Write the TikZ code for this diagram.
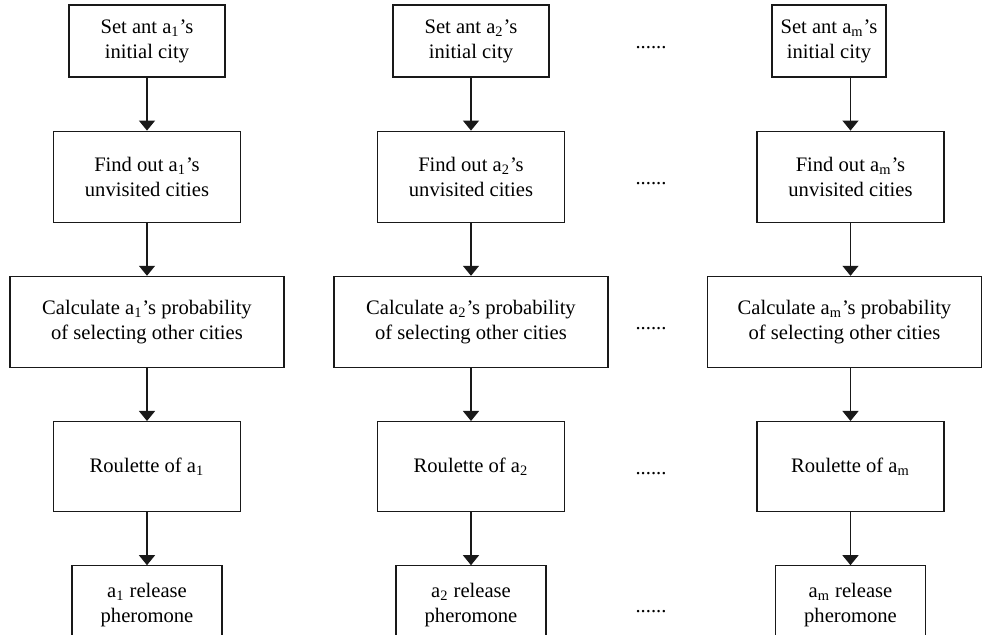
\documentclass[tikz,border=0pt]{standalone}
\usepackage{fontspec}
\setmainfont{Liberation Serif}
\usetikzlibrary{arrows.meta, positioning}

\begin{document}
\begin{tikzpicture}[
        x=0.5pt, y=0.5pt,
        font=\fontsize{10.3}{12.5}\selectfont,
        node distance=26.5pt,
        cell/.style={rectangle, draw=black!90, line width=0.6pt, align=center, inner sep=2pt},
        setbox/.style={cell, minimum width=78pt, minimum height=36pt},
        findbox/.style={cell, minimum width=93.5pt, minimum height=45.5pt},
        calcbox/.style={cell, minimum width=137pt, minimum height=45.5pt},
        roulbox/.style={cell, minimum width=93.5pt, minimum height=45pt},
        relbox/.style={cell, minimum width=75pt, minimum height=39pt},
        gapdots/.style={anchor=base, yshift=-4pt, inner sep=0pt},
        flow/.style={-{Triangle[length=5pt, width=8pt]}, line width=0.6pt, draw=black!90},
    ]
        \useasboundingbox (0,0) rectangle (982,-635);
        \clip (0,0) rectangle (982,-635);

        % ant a1
        \node[setbox] (c1b1) at (147,-41) {Set ant a\textsubscript{1}'s\\initial city};
        \node[findbox, below=of c1b1] (c1b2) {Find out a\textsubscript{1}'s\\unvisited cities};
        \node[calcbox, below=of c1b2] (c1b3)
            {Calculate a\textsubscript{1}'s probability\\of selecting other cities};
        \node[roulbox, below=of c1b3] (c1b4) {Roulette of a\textsubscript{1}};
        \node[relbox, below=of c1b4] (c1b5) {a\textsubscript{1} release\\pheromone};

        % ant a2
        \node[setbox] (c2b1) at (471,-41) {Set ant a\textsubscript{2}'s\\initial city};
        \node[findbox, below=of c2b1] (c2b2) {Find out a\textsubscript{2}'s\\unvisited cities};
        \node[calcbox, below=of c2b2] (c2b3)
            {Calculate a\textsubscript{2}'s probability\\of selecting other cities};
        \node[roulbox, below=of c2b3] (c2b4) {Roulette of a\textsubscript{2}};
        \node[relbox, below=of c2b4] (c2b5) {a\textsubscript{2} release\\pheromone};

        % ant am
        \node[setbox, minimum width=57pt] (c3b1) at (829,-41) {Set ant a\textsubscript{m}'s\\initial city};
        \node[findbox, below=of c3b1, xshift=10.75pt] (c3b2) {Find out a\textsubscript{m}'s\\unvisited cities};
        \node[calcbox, below=of c3b2, xshift=-3pt] (c3b3)
            {Calculate a\textsubscript{m}'s probability\\of selecting other cities};
        \node[roulbox, below=of c3b3, xshift=3pt] (c3b4) {Roulette of a\textsubscript{m}};
        \node[relbox, below=of c3b4] (c3b5) {a\textsubscript{m} release\\pheromone};

        \draw[flow] (c1b1) -- (c1b2);
        \draw[flow] (c1b2) -- (c1b3);
        \draw[flow] (c1b3) -- (c1b4);
        \draw[flow] (c1b4) -- (c1b5);
        \draw[flow] (c2b1) -- (c2b2);
        \draw[flow] (c2b2) -- (c2b3);
        \draw[flow] (c2b3) -- (c2b4);
        \draw[flow] (c2b4) -- (c2b5);
        \draw[flow] (c3b1.south -| c3b2) -- (c3b2.north);
        \draw[flow] (c3b2.south) -- (c3b2.south |- c3b3.north);
        \draw[flow] (c3b4.north |- c3b3.south) -- (c3b4.north);
        \draw[flow] (c3b4) -- (c3b5);

        % dots between a2 and am
        \coordinate (gap) at (651,0);
        \node[gapdots] at (gap |- c2b1) {......};
        \node[gapdots] at (gap |- c2b2) {......};
        \node[gapdots] at (gap |- c2b3) {......};
        \node[gapdots] at (gap |- c2b4) {......};
        \node[gapdots] at (gap |- c2b5) {......};
    \end{tikzpicture}
\end{document}
